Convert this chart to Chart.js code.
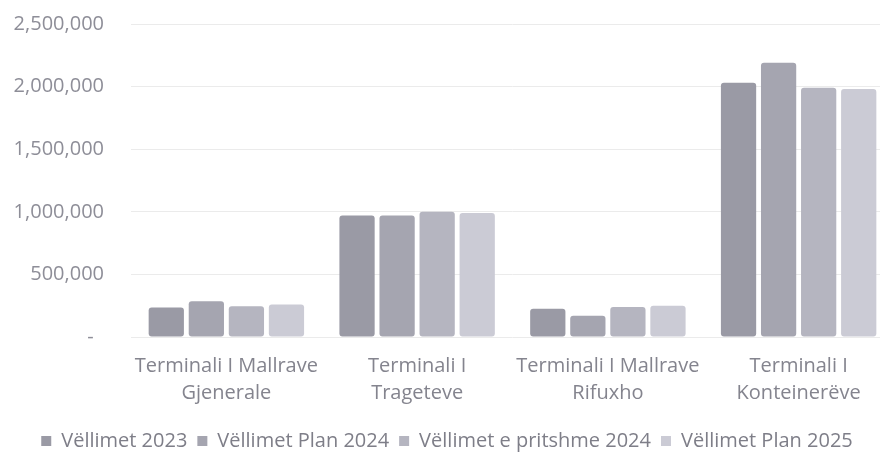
<!DOCTYPE html>
<html>
<head>
<meta charset="utf-8">
<script src="https://cdn.jsdelivr.net/npm/chart.js"></script>
<style>
  html, body { margin: 0; padding: 0; background: #fff; overflow: hidden; }
  #wrap { width: 894px; height: 461px; }
</style>
</head>
<body>
<div id="wrap"><canvas id="chart"></canvas></div>
<script>
// categories (two-line labels)
const terminals = [
    ["Terminali I Mallrave", "Gjenerale"],
    ["Terminali I", "Trageteve"],
    ["Terminali I Mallrave", "Rifuxho"],
    ["Terminali I", "Konteinerëve"]
];

// series values
const vol2023 = [235000, 970000, 225000, 2030000];
const plan2024 = [285000, 970000, 170000, 2190000];
const expected2024 = [245000, 1000000, 240000, 1990000];
const plan2025 = [260000, 990000, 250000, 1980000];

const seriesNames = ["Vëllimet 2023", "Vëllimet Plan 2024", "Vëllimet e pritshme 2024", "Vëllimet Plan 2025"];
const seriesColors = ["#9a9aa5", "#a5a5b0", "#b5b5c0", "#cbcbd5"];

const font = "'Open Sans', sans-serif";

const datasets = [vol2023, plan2024, expected2024, plan2025].map((vals, i) => ({
    label: seriesNames[i],
    data: vals,
    backgroundColor: seriesColors[i],
    borderRadius: 3,
    borderSkipped: false,
    barPercentage: 0.88,
    categoryPercentage: 0.84
}));

new Chart(document.getElementById("chart"), {
    type: "bar",
    data: { labels: terminals, datasets: datasets },
    options: {
        responsive: true,
        maintainAspectRatio: false,
        animation: false,
        layout: { padding: { top: 24, bottom: 0 } },
        plugins: {
            tooltip: { enabled: false },
            legend: {
                position: "bottom",
                labels: {
                    color: "#7e7e88",
                    font: { family: font, size: 20 },
                    boxWidth: 10,
                    boxHeight: 10,
                    padding: 10
                }
            }
        },
        scales: {
            x: {
                afterFit: scale => { scale.height += 6; },
                grid: { display: false },
                border: { display: false },
                ticks: {
                    color: "#84848e",
                    font: { family: font, size: 20, lineHeight: 1.35 },
                    padding: 8,
                    maxRotation: 0
                }
            },
            y: {
                min: 0,
                max: 2500000,
                afterFit: scale => { scale.width = 131; },
                grid: { color: "#ebebeb", tickColor: "rgba(0,0,0,0)", tickLength: 27 },
                border: { display: false },
                ticks: {
                    stepSize: 500000,
                    color: "#8e8e98",
                    font: { family: font, size: 20 },
                    padding: 0,
                    callback: v => v === 0 ? "-  " : v.toLocaleString("en-US")
                }
            }
        }
    }
});
</script>
</body>
</html>
